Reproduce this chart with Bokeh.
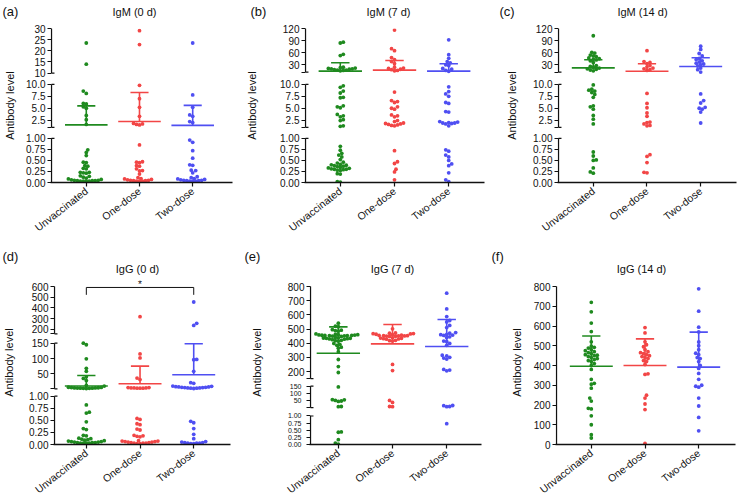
import math
from bokeh.plotting import figure
from bokeh.layouts import row, column
from bokeh.models import Range1d, FixedTicker, LinearAxis
from bokeh.core.properties import value
from bokeh.embed import file_html
from bokeh.resources import INLINE

FONT = "Liberation Sans"
INK = "#111111"
GROUPS = ["Unvaccinated", "One-dose", "Two-dose"]
COLORS = ["#1f8a1f", "#f24646", "#4f4ff2"]

# ---------------- data ----------------
# (a) IgM (0 d)
a_unvacc = [23.5, 14.0, 8.6, 8.1, 6.0, 5.9, 5.3, 5.0, 3.5, 2.6, 1.6,
            0.74, 0.68, 0.61, 0.46, 0.45, 0.38, 0.37, 0.32, 0.31, 0.23, 0.23, 0.22, 0.21, 0.15, 0.14,
            0.12, 0.10, 0.08, 0.07, 0.06, 0.05, 0.05, 0.04, 0.04, 0.04, 0.03, 0.03, 0.03, 0.03]
a_one = [29.0, 22.8, 9.8, 7.0, 5.2, 3.3, 1.8, 1.7, 1.6, 1.5,
         0.85, 0.47, 0.46, 0.45, 0.38, 0.37, 0.31, 0.27, 0.26, 0.19,
         0.11, 0.09, 0.08, 0.07, 0.06, 0.05, 0.05, 0.04, 0.04, 0.03, 0.03, 0.03]
a_two = [23.5, 7.8, 5.2, 3.6, 3.3, 2.2, 2.0,
         0.96, 0.91, 0.72, 0.55, 0.40, 0.39, 0.28, 0.27, 0.22, 0.13,
         0.11, 0.09, 0.08, 0.07, 0.06, 0.05, 0.05, 0.04, 0.04, 0.03, 0.03, 0.03]
a_mean = [1.5, 2.2, 1.4]
a_upper = [5.5, 8.3, 5.6]

# (b) IgM (7 d)
b_unvacc = [86, 84, 56, 53, 24, 23, 22, 21, 20, 20, 19, 18, 17, 17, 16, 15,
            9.7, 9.4, 8.6, 8.2, 7.3, 7.2, 5.5, 5.3, 5.1, 3.7, 3.4, 3.2, 2.6, 2.4, 1.3, 1.2,
            0.82, 0.73, 0.66, 0.62, 0.58, 0.52, 0.46, 0.44, 0.41, 0.40, 0.39, 0.38, 0.37, 0.36,
            0.34, 0.33, 0.32, 0.31, 0.30, 0.30, 0.29, 0.28, 0.27, 0.20, 0.19, 0.02, 0.01]
b_one = [116, 70, 65, 48, 43, 38, 33, 24, 22, 21, 19, 18, 16, 15,
         8.4, 6.6, 6.4, 6.2, 5.3, 5.0, 4.8, 3.6, 3.4, 3.2, 2.4, 2.2, 1.9, 1.8, 1.7, 1.6, 1.5, 1.4, 1.3,
         0.72, 0.47, 0.43, 0.30, 0.24, 0.06]
b_two = [92, 55, 46, 38, 35, 30, 28, 21, 19, 16, 14,
         9.5, 8.5, 8.0, 7.5, 6.2, 6.0, 4.3, 4.2, 2.2, 2.1, 2.0, 1.9, 1.9, 1.8, 1.7, 1.3,
         0.74, 0.71, 0.62, 0.58, 0.50, 0.42, 0.38, 0.22, 0.06, 0.02]
b_mean = [14.3, 16.8, 14.3]
b_upper = [35, 40.5, 32.5]

# (c) IgM (14 d)
c_unvacc = [102, 61, 59, 54, 52, 50, 47, 45, 44, 42, 40, 36, 28, 26, 24, 22, 20, 19, 17, 15,
            9.9, 9.0, 8.8, 8.6, 8.3, 7.9, 7.3, 5.5, 5.3, 4.8, 3.5, 2.7, 1.7,
            0.69, 0.60, 0.51, 0.50, 0.33, 0.24, 0.21]
c_one = [65, 38, 36, 33, 28, 25, 22, 20, 18, 16,
         8.1, 6.0, 5.1, 4.0, 3.3, 2.1, 2.0, 1.7, 1.4, 1.3,
         0.63, 0.59, 0.45, 0.23, 0.22]
c_two = [76, 68, 58, 52, 46, 43, 40, 37, 34, 32, 30, 27, 22, 18, 12,
         8.0, 6.6, 6.1, 5.2, 5.0, 4.8, 4.2, 1.9]
c_mean = [22.5, 14.2, 25.8]
c_upper = [42.5, 32.5, 47.5]

# (d) IgG (0 d)
d_unvacc = [150, 145, 99, 68, 58, 40, 35, 28, 12, 10, 6, 5.5, 5, 4.5, 4, 4, 3.5, 3, 3, 2.5, 2.5, 2,
            0.82, 0.67, 0.65, 0.47, 0.33, 0.31, 0.19, 0.18, 0.13, 0.12, 0.11, 0.10,
            0.09, 0.08, 0.07, 0.06, 0.06, 0.05, 0.05, 0.04, 0.04, 0.04, 0.03, 0.03, 0.03, 0.03]
d_one = [317, 115, 102, 36, 31, 5, 5, 4, 4, 4, 3, 3, 3,
         0.54, 0.52, 0.43, 0.41, 0.32, 0.30, 0.19, 0.18, 0.17, 0.16, 0.08, 0.07, 0.07, 0.06, 0.06,
         0.05, 0.05, 0.04, 0.04, 0.03, 0.03, 0.03, 0.02, 0.02]
d_two = [455, 255, 235, 97, 96, 58, 21, 19, 10, 9, 8, 7, 7, 6, 6, 5, 5, 4, 4, 3, 3, 2,
         0.48, 0.45, 0.33, 0.21, 0.12, 0.06, 0.05, 0.04, 0.04, 0.03, 0.03, 0.03, 0.02, 0.02]
d_mean = [10, 17.6, 46.7]
d_upper = [44.6, 75, 148]
d_sig = {"from": 0, "to": 2, "level": 591, "drop": 522, "text": "*"}

# (e) IgG (7 d)
e_unvacc = [541, 520, 516, 495, 492, 488, 485, 465, 462, 460, 460, 458, 457, 456, 455, 455, 454,
            453, 452, 450, 448, 440, 438, 436, 435, 434, 432, 430, 428, 425, 420, 418, 415, 398,
            392, 385, 372, 365, 340, 285, 235, 193,
            145, 57, 52, 45, 48, 56, 10, 9,
            0.44, 0.43, 0.17, 0.05, 0.01]
e_one = [501, 472, 470, 468, 467, 465, 463, 460, 456, 455, 454, 453, 452, 451, 450, 449, 448,
         438, 436, 434, 432, 430, 428, 420, 418, 415, 250, 207,
         52, 38, 10, 9]
e_two = [753, 642, 588, 560, 550, 525, 510, 475, 470, 462, 460, 457, 455, 445, 440, 415, 412,
         398, 385, 315, 310, 300, 295, 288, 215, 210, 205,
         17, 16, 10, 9,
         0.73]
e_mean = [329, 395, 377]
e_upper = [515, 532, 567]

# (f) IgG (14 d)
f_unvacc = [720, 672, 615, 572, 520, 498, 492, 488, 480, 475, 470, 465, 460, 455, 452, 450, 445,
            440, 435, 430, 425, 420, 410, 400, 380, 330, 310, 305, 285, 235, 220, 183, 180, 145,
            100, 50, 33]
f_one = [592, 565, 520, 505, 495, 480, 470, 465, 460, 455, 450, 445, 440, 435, 425, 420, 405,
         358, 355, 250, 235, 205, 177, 5]
f_two = [788, 675, 594, 570, 519, 500, 480, 462, 455, 440, 435, 420, 400, 385, 360, 330, 300,
         295, 290, 235, 195, 137, 69]
f_mean = [396, 400, 392]
f_upper = [549, 535, 569]

LETTERS_TOP = ["(a)", "(b)", "(c)"]
TITLES_TOP = ["IgM (0 d)", "IgM (7 d)", "IgM (14 d)"]
LETTERS_BOTTOM = ["(d)", "(e)", "(f)"]
TITLES_BOTTOM = ["IgG (0 d)", "IgG (7 d)", "IgG (14 d)"]

# ---------------- tick labels per axis segment ----------------
LOW_TICKS = [(0, "0.00"), (0.25, "0.25"), (0.5, "0.50"), (0.75, "0.75"), (1, "1.00")]
IGM_MID_TICKS = [(1, ""), (2.5, "2.5"), (5, "5.0"), (7.5, "7.5"), (10, "10.0")]
A_TOP_TICKS = [(10, "10"), (15, "15"), (20, "20"), (25, "25"), (30, "30")]
BC_TOP_TICKS = [(12, ""), (30, "30"), (60, "60"), (90, "90"), (120, "120")]
D_MID_TICKS = [(1, ""), (50, "50"), (100, "100"), (150, "150")]
D_TOP_TICKS = [(157, ""), (200, "200"), (300, "300"), (400, "400"), (500, "500"), (600, "600")]
E_MID_TICKS = [(3, ""), (50, "50"), (100, "100"), (150, "150")]
E_TOP_TICKS = [(150, ""), (200, "200"), (300, "300"), (400, "400"), (500, "500"),
               (600, "600"), (700, "700"), (800, "800")]
F_TICKS = [(v, str(v)) for v in [0, 100, 200, 300, 400, 500, 600, 700, 800]]

# broken-axis segments: (value_low, value_high, frame_fraction_low, frame_fraction_high)
A_SEGS = [(0, 1, 0.0, 0.2868), (1, 10, 0.3585, 0.6369), (10, 30, 0.7106, 1.0)]
BC_SEGS = [(0, 1, 0.0, 0.2868), (1, 10, 0.3585, 0.6369), (12, 120, 0.7171, 1.0)]
D_SEGS = [(0, 1, 0.0, 0.3057), (1, 150, 0.3525, 0.6411), (157, 600, 0.7006, 1.0)]
E_SEGS = [(0, 1, 0.0, 0.1804), (3, 150, 0.2340, 0.3690), (150, 800, 0.4170, 1.0)]
F_SEGS = [(0, 800, 0.0, 1.0)]

ROW1 = dict(H=230, T=8, fh=154, B=68, ytop=1.0)
ROW2 = dict(H=226, T=3, fh=164, B=59, ytop=164 / 158)

PANELS = [
    dict(values=[a_unvacc, a_one, a_two], mean=a_mean, upper=a_upper,
         segs=A_SEGS, ticks=[LOW_TICKS, IGM_MID_TICKS, A_TOP_TICKS], small=[], row=ROW1,
         geom=dict(fw=182, L=50, R=11, xs=0.346, xe=3.748, so=7)),
    dict(values=[b_unvacc, b_one, b_two], mean=b_mean, upper=b_upper,
         segs=BC_SEGS, ticks=[LOW_TICKS, IGM_MID_TICKS, BC_TOP_TICKS], small=[], row=ROW1,
         geom=dict(fw=180, L=59, R=7, xs=0.358, xe=3.66, so=19)),
    dict(values=[c_unvacc, c_one, c_two], mean=c_mean, upper=c_upper,
         segs=BC_SEGS, ticks=[LOW_TICKS, IGM_MID_TICKS, BC_TOP_TICKS], small=[], row=ROW1,
         geom=dict(fw=179, L=66, R=3, xs=0.352, xe=3.667, so=12)),
    dict(values=[d_unvacc, d_one, d_two], mean=d_mean, upper=d_upper,
         segs=D_SEGS, ticks=[LOW_TICKS, D_MID_TICKS, D_TOP_TICKS], small=[], sig=d_sig, row=ROW2,
         geom=dict(fw=177, L=53, R=13, xs=0.407, xe=3.685, so=11)),
    dict(values=[e_unvacc, e_one, e_two], mean=e_mean, upper=e_upper,
         segs=E_SEGS, ticks=[LOW_TICKS, E_MID_TICKS, E_TOP_TICKS], small=[0, 1], row=ROW2,
         geom=dict(fw=172, L=66, R=8, xs=0.486, xe=3.642, so=22)),
    dict(values=[f_unvacc, f_one, f_two], mean=f_mean, upper=f_upper,
         segs=F_SEGS, ticks=[F_TICKS], small=[], row=ROW2,
         geom=dict(fw=180, L=66, R=2, xs=0.352, xe=3.685, so=8)),
]


def seg_pos(seg, v):
    lo, hi, flo, fhi = seg
    return flo + (v - lo) / (hi - lo) * (fhi - flo)


def to_frac(v, segs):
    for seg in segs:
        if v <= seg[1]:
            return seg_pos(seg, v)
    return seg_pos(segs[-1], v)


def swarm(ypx, d=3.0):
    step = d * 0.5
    order = sorted(range(len(ypx)), key=lambda i: ypx[i])
    placed = []
    offs = [0.0] * len(ypx)
    for n, i in enumerate(order):
        y = ypx[i]
        near = [(px, py) for px, py in placed if abs(py - y) < d]
        k = 0
        found = None
        while found is None:
            if k == 0:
                cands = [0.0]
            else:
                cands = [k * step, -k * step] if n % 2 == 0 else [-k * step, k * step]
            for c in cands:
                if all((c - px) ** 2 + (y - py) ** 2 >= d * d - 1e-9 for px, py in near):
                    found = c
                    break
            k += 1
        offs[i] = found
        placed.append((found, y))
    return offs


def style_axis_text(ax, size):
    ax.major_label_text_font = FONT
    ax.major_label_text_font_size = size
    ax.major_label_text_color = INK


def make_panel(cfg):
    g = cfg["geom"]
    r = cfg["row"]
    segs = cfg["segs"]
    xpx = g["fw"] / (g["xe"] - g["xs"])
    ypx = r["fh"] / r["ytop"]
    x_start = g["xs"] - 1.0 / xpx
    p = figure(frame_width=g["fw"], frame_height=r["fh"],
               min_border_left=g["L"], min_border_right=g["R"],
               min_border_top=r["T"], min_border_bottom=r["B"],
               x_range=Range1d(x_start, g["xe"]), y_range=Range1d(0, r["ytop"]),
               output_backend="svg", toolbar_location=None)
    p.xgrid.visible = False
    p.ygrid.visible = False
    p.outline_line_color = None
    p.background_fill_color = "white"

    # points (beeswarm)
    for gi, vals in enumerate(cfg["values"]):
        fr = [to_frac(v, segs) for v in vals]
        offs = swarm([f * ypx for f in fr])
        xs = [gi + 1 + o / xpx for o in offs]
        p.scatter(xs, fr, size=3.8, fill_color=COLORS[gi], line_color=None)

    # mean line and upper whisker
    cx = [i + 1 for i in range(len(GROUPS))]
    fm = [to_frac(m, segs) for m in cfg["mean"]]
    fu = [to_frac(u, segs) for u in cfg["upper"]]
    p.segment(x0=[c - 0.4 for c in cx], x1=[c + 0.4 for c in cx], y0=fm, y1=fm,
              line_color=COLORS, line_width=1.6)
    p.segment(x0=cx, x1=cx, y0=fm, y1=fu, line_color=COLORS, line_width=1.6)
    p.segment(x0=[c - 0.17 for c in cx], x1=[c + 0.17 for c in cx], y0=fu, y1=fu,
              line_color=COLORS, line_width=1.6)

    # significance bracket
    sig = cfg.get("sig")
    if sig:
        x1, x2 = sig["from"] + 1, sig["to"] + 1
        fl, fd = to_frac(sig["level"], segs), to_frac(sig["drop"], segs)
        p.segment(x0=[x1, x1, x2], y0=[fl, fl, fl], x1=[x2, x1, x2], y1=[fl, fd, fd],
                  line_color=INK, line_width=1)
        p.text(x=[(x1 + x2) / 2], y=[fl], text=[sig["text"]], text_align="center",
               text_baseline="bottom", text_font=value(FONT), text_font_size="10px",
               text_color=INK, y_offset=3)

    # broken y-axis spine pieces, with small caps at the inner break ends
    sx = g["xs"]
    p.segment(x0=[sx] * len(segs), x1=[sx] * len(segs),
              y0=[s[2] for s in segs], y1=[s[3] for s in segs],
              line_color=INK, line_width=1.3)
    caps = []
    for si, s in enumerate(segs):
        if si > 0:
            caps.append(s[2])
        if si < len(segs) - 1:
            caps.append(s[3])
    if caps:
        p.segment(x0=[sx] * len(caps), x1=[sx + 3.0 / xpx] * len(caps), y0=caps, y1=caps,
                  line_color=INK, line_width=1.2)

    # y axis ticks / labels
    positions, overrides = [], {}
    small_pos, small_over = [], {}
    for si, seg in enumerate(segs):
        for v, lab in cfg["ticks"][si]:
            pos = round(seg_pos(seg, v), 5)
            positions.append(pos)
            if si in cfg["small"]:
                overrides[pos] = ""
                if lab:
                    small_pos.append(pos)
                    small_over[pos] = lab
            else:
                overrides[pos] = lab
    ya = p.yaxis[0]
    ya.ticker = FixedTicker(ticks=positions)
    ya.major_label_overrides = overrides
    ya.minor_tick_line_color = None
    ya.axis_line_color = None
    ya.major_tick_line_color = INK
    ya.major_tick_line_width = 1.2
    ya.major_tick_out = 3
    ya.major_tick_in = 1
    ya.major_label_standoff = 2
    style_axis_text(ya, "10px")

    label_axis = ya
    if small_pos:
        ax2 = LinearAxis(ticker=FixedTicker(ticks=small_pos), major_label_overrides=small_over,
                         axis_line_color=None, major_tick_line_color=None,
                         minor_tick_line_color=None, major_tick_out=0, major_tick_in=0,
                         minor_tick_out=0, minor_tick_in=0, major_label_standoff=-17)
        style_axis_text(ax2, "7px")
        p.add_layout(ax2, "left")
        label_axis = ax2
    label_axis.axis_label = "Antibody level"
    label_axis.axis_label_text_font = FONT
    label_axis.axis_label_text_font_size = "11px"
    label_axis.axis_label_text_font_style = "normal"
    label_axis.axis_label_text_color = INK
    label_axis.axis_label_standoff = g["so"]

    # x axis (categories)
    xa = p.xaxis[0]
    xa.ticker = FixedTicker(ticks=cx)
    xa.major_label_overrides = {c: GROUPS[i] for i, c in enumerate(cx)}
    xa.major_label_orientation = math.radians(38)
    xa.minor_tick_line_color = None
    xa.axis_line_color = INK
    xa.axis_line_width = 1.3
    xa.major_tick_line_color = INK
    xa.major_tick_line_width = 1.2
    xa.major_tick_out = 4
    xa.major_tick_in = 0
    xa.major_label_standoff = 3
    style_axis_text(xa, "10.5px")
    return p


def make_header(height, letters, letter_x, letter_y, titles, title_x, title_y):
    h = figure(width=737, height=height, x_range=Range1d(0, 737), y_range=Range1d(height, 0),
               x_axis_location=None, y_axis_location=None, min_border=0,
               output_backend="svg", toolbar_location=None)
    h.grid.visible = False
    h.outline_line_color = None
    h.text(x=letter_x, y=[letter_y] * len(letters), text=letters, text_align="left",
           text_baseline="middle", text_font=value(FONT), text_font_size="13px", text_color=INK)
    h.text(x=title_x, y=[title_y] * len(titles), text=titles, text_align="center",
           text_baseline="middle", text_font=value(FONT), text_font_size="11px", text_color=INK)
    return h


figs = [make_panel(c) for c in PANELS]
head1 = make_header(20, LETTERS_TOP, [2, 250, 499], 10.5, TITLES_TOP, [134, 388, 642], 11)
head2 = make_header(27, LETTERS_BOTTOM, [2, 244, 491], 6, TITLES_BOTTOM, [137, 392, 641], 18.5)
layout = column(head1, row(figs[0], figs[1], figs[2]), head2, row(figs[3], figs[4], figs[5]))

with open("out.html", "w") as fh:
    fh.write(file_html(layout, INLINE))
